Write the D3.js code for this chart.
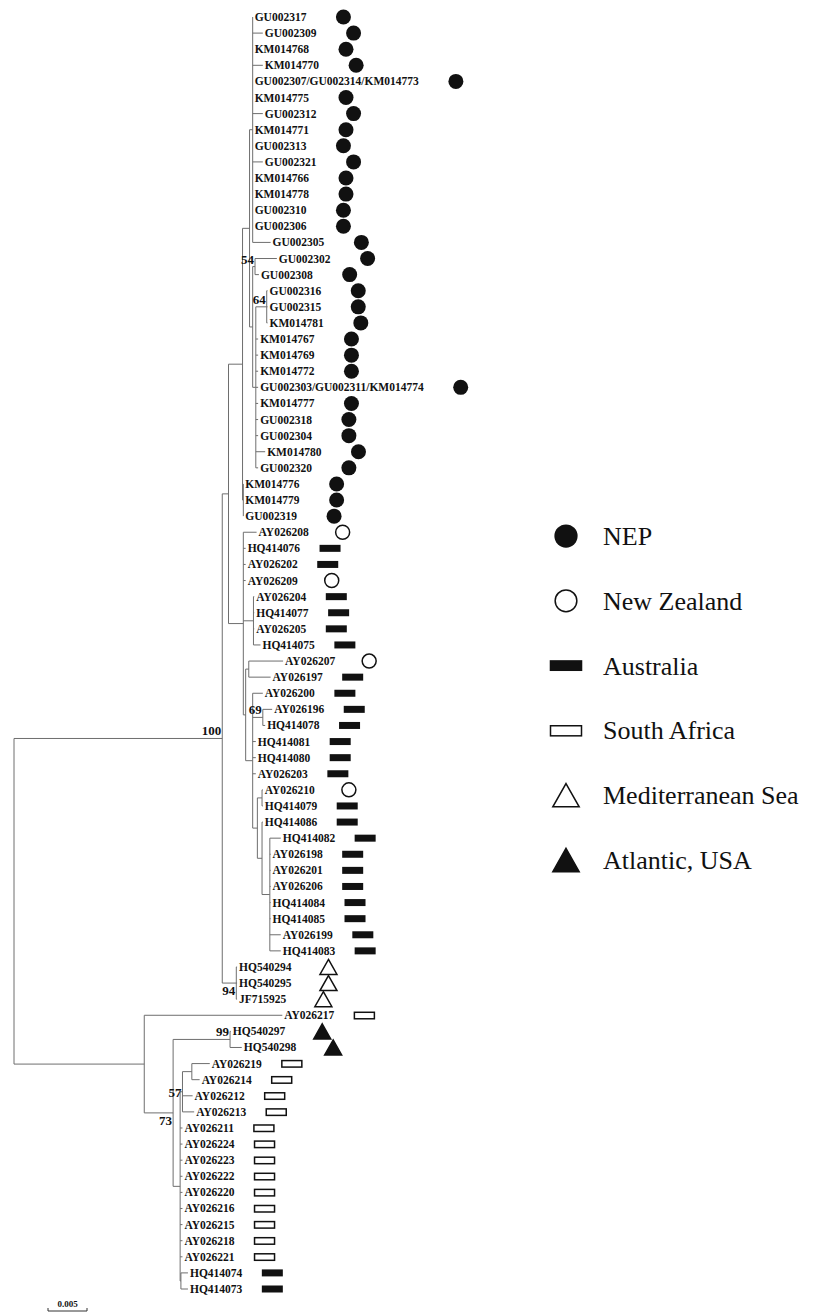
<!DOCTYPE html>
<html><head><meta charset="utf-8">
<script src="https://cdn.jsdelivr.net/npm/d3@7"></script>
<style>body{margin:0;background:#fff}</style>
</head><body>
<svg id="c" width="813" height="1314"></svg>
<script>
// ---- DATA ----
// Tree topology with branch lengths (substitutions/site) and bootstrap supports
const cladeU = "(GU002317:0,GU002309:0.0013,KM014768:0,KM014770:0.0013,GU002307/GU002314/KM014773:0,KM014775:0,GU002312:0.0013,KM014771:0,GU002313:0,GU002321:0.0013,KM014766:0,KM014778:0,GU002310:0,GU002306:0,GU002305:0.0023)";
const clade54 = "(GU002302:0.0028,GU002308:0.0005)54";
const cladeY = "((GU002316:0.0001,GU002315:0.0001,KM014781:0.0001)64:0.0014,KM014767:0.0003,KM014769:0.0003,KM014772:0.0003,GU002303/GU002311/KM014774:0.0003,KM014777:0.0003,GU002318:0.0003,GU002304:0.0003,KM014780:0.0012,GU002320:0.0003)";
const cladeKM = "(KM014776:0,KM014779:0,GU002319:0)";
const cladeM = "(HQ414082:0.0014,AY026198:0.0001,AY026201:0.0001,AY026206:0.0001,HQ414084:0.0001,HQ414085:0.0001,AY026199:0.0014,HQ414083:0.0014)";
const cladeR = "(AY026200:0.0013,(AY026196:0.0012,HQ414078:0.0003)69:0.0013,HQ414081:0.0004,HQ414080:0.0004,AY026203:0.0004,((AY026210:0.0001,HQ414079:0.0001):0.0006,(HQ414086:0.0001," + cladeM + ":0.001):0.0006):0.0006)";
const cladeAu = "(AY026208:0.0017,HQ414076:0.0003,AY026202:0.0003,AY026209:0.0003,(AY026204:0.0001,HQ414077:0.0001,AY026205:0.0001,HQ414075:0.0009):0.0013,((AY026207:0.0044,AY026197:0.0028):0.0004," + cladeR + ":0.0009):0.0003)";
const clade94 = "(HQ540294:0.0001,HQ540295:0.0001,JF715925:0.0001)94";
const cladeD = "(((AY026219:0.0023,AY026214:0.001):0.0012,AY026212:0.0013,AY026213:0.0015)57:0.0003,AY026211:0.0003,AY026224:0.0003,AY026223:0.0003,AY026222:0.0003,AY026220:0.0003,AY026216:0.0003,AY026215:0.0003,AY026218:0.0003,AY026221:0.0003,(HQ414074:0.0009,HQ414073:0.0009):0.0001)";
const cladeB = "(AY026217:0.0177,((HQ540297:0.0001,HQ540298:0.0015)99:0.0073," + cladeD + ":0.0009)73:0.0037)";
const newick = "(((((" + cladeU + ":0.0004,(" + clade54 + ":0.0003," + cladeY + ":0.0004):0.0004):0.0009," + cladeKM + ":0.0001):0.0018," + cladeAu + ":0.0019):0.0008," + clade94 + ":0.0018)100:0.0267," + cladeB + ":0.0167);";

// Region of each leaf, in leaf order (top to bottom)
const leafRegion = [
 "NEP","NEP","NEP","NEP","NEP","NEP","NEP","NEP","NEP","NEP","NEP","NEP","NEP","NEP","NEP","NEP",
 "NEP","NEP","NEP","NEP","NEP","NEP","NEP","NEP","NEP","NEP","NEP","NEP","NEP","NEP","NEP","NEP",
 "NZ","AUS","AUS","NZ","AUS","AUS","AUS","AUS","NZ","AUS","AUS","AUS","AUS","AUS","AUS","AUS",
 "NZ","AUS","AUS","AUS","AUS","AUS","AUS","AUS","AUS","AUS","AUS",
 "MED","MED","MED",
 "SA","ATL","ATL",
 "SA","SA","SA","SA","SA","SA","SA","SA","SA","SA","SA","SA","SA",
 "AUS","AUS"
];
const legendCodes = ["NEP","NZ","AUS","SA","MED","ATL"];
const legendNames = ["NEP","New Zealand","Australia","South Africa","Mediterranean Sea","Atlantic, USA"];
const supportPlace = {"100":"above","94":"below","99":"above","73":"below","57":"mid","64":"above","69":"above","54":"above"};
const scaleBarValue = 0.005;

// ---- PARSE ----
function parseNewick(s){
  let i=0;
  function node(){
    const n={children:[]};
    if(s[i]==='('){
      i++; n.children.push(node());
      while(s[i]===','){ i++; n.children.push(node()); }
      i++;
    }
    let name=''; while(i<s.length && !',():;'.includes(s[i])) name+=s[i++];
    let len=0;
    if(s[i]===':'){ i++; let num=''; while(i<s.length && !',();'.includes(s[i])) num+=s[i++]; len=+num; }
    if(n.children.length) n.support=name; else n.name=name;
    n.length=len;
    if(!n.children.length) delete n.children;
    return n;
  }
  return node();
}
const root = d3.hierarchy(parseNewick(newick));

// ---- SCALES ----
const leaves = root.leaves();
const x = d3.scaleLinear().domain([0, 0.04]).range([14, 14 + 312]);
const y = d3.scaleLinear().domain([0, leaves.length-1]).range([17, 1289]);

root.eachBefore(d => { d.depth_len = d.parent ? d.parent.depth_len + d.data.length : 0; });
leaves.forEach((d,i) => { d.yy = y(i); d.region = leafRegion[i]; });
root.eachAfter(d => { if(d.children){ d.yy = (d.children[0].yy + d.children[d.children.length-1].yy)/2; } });
root.each(d => d.xx = x(d.depth_len));

const svg = d3.select("#c");
const lineColor = "#6e6e6e";
const g = svg.append("g");

// vertical connectors
g.selectAll("line.v").data(root.descendants().filter(d=>d.children)).join("line")
  .attr("x1", d=>d.xx).attr("x2", d=>d.xx)
  .attr("y1", d=>d.children[0].yy).attr("y2", d=>d.children[d.children.length-1].yy)
  .attr("stroke", lineColor).attr("stroke-width",1);
// horizontal branches
g.selectAll("line.h").data(root.descendants().filter(d=>d.parent)).join("line")
  .attr("x1", d=>d.parent.xx).attr("x2", d=>d.xx)
  .attr("y1", d=>d.yy).attr("y2", d=>d.yy)
  .attr("stroke", lineColor).attr("stroke-width",1);

// leaf labels
const font = "'Liberation Serif','Times New Roman',serif";
const labels = g.selectAll("text.leaf").data(leaves).join("text")
  .attr("x", d=>d.xx+2).attr("y", d=>d.yy+4)
  .attr("font-family", font).attr("font-weight","bold").attr("font-size",11.5)
  .attr("fill","#111").text(d=>d.data.name);
labels.each(function(d){ d.labelEnd = d.xx + 2 + this.getComputedTextLength(); });

// bootstrap supports
g.selectAll("text.sup").data(root.descendants().filter(d=>d.children && d.data.support)).join("text")
  .attr("x", d=>d.xx-1).attr("text-anchor","end")
  .attr("y", d=>{ const p = supportPlace[d.data.support]; return p==="below"? d.yy+12 : p==="mid"? d.yy+5 : d.yy-3; })
  .attr("font-family", font).attr("font-weight","bold").attr("font-size",13).attr("fill","#111")
  .text(d=>d.data.support);

// markers
function drawMarker(sel, code, cx, cy, s){
  if(code==="NEP") sel.append("circle").attr("cx",cx).attr("cy",cy).attr("r",7.5*s).attr("fill","#111");
  else if(code==="NZ") sel.append("circle").attr("cx",cx).attr("cy",cy).attr("r",7*s).attr("fill","#fff").attr("stroke","#111").attr("stroke-width",1.5);
  else if(code==="AUS") sel.append("rect").attr("x",cx-10.5*s).attr("y",cy-3.5*s).attr("width",21*s).attr("height",7*s).attr("fill","#111");
  else if(code==="SA") sel.append("rect").attr("x",cx-10*s).attr("y",cy-3*s).attr("width",20*s).attr("height",6.5*s).attr("fill","#fff").attr("stroke","#111").attr("stroke-width",1.5);
  else {
    const w=8.5*s, h=7.5*s;
    sel.append("path").attr("d",`M${cx},${cy-h}L${cx+w},${cy+h}L${cx-w},${cy+h}Z`)
      .attr("fill", code==="ATL"?"#111":"#fff").attr("stroke","#111").attr("stroke-width",1.5);
  }
}
const markerGap = {NEP:37, NZ:34, AUS:30, SA:30, MED:37, ATL:37};
const mg = svg.append("g");
leaves.forEach(d => drawMarker(mg, d.region, d.labelEnd + markerGap[d.region], d.yy, 1));

// legend
const ly = d3.scalePoint().domain(legendCodes).range([536, 860]);
const lg = svg.append("g");
legendCodes.forEach((c,i) => {
  drawMarker(lg, c, 566, ly(c), 1.55);
  lg.append("text").attr("x",603).attr("y",ly(c)+9)
    .attr("font-family",font).attr("font-size",26).attr("fill","#111").text(legendNames[i]);
});

// scale bar
const sbX = 48, sbY = 1311, sbW = x(scaleBarValue) - x(0);
const sb = svg.append("g").attr("stroke","#333").attr("stroke-width",1);
sb.append("line").attr("x1",sbX).attr("x2",sbX+sbW).attr("y1",sbY).attr("y2",sbY);
sb.append("line").attr("x1",sbX).attr("x2",sbX).attr("y1",sbY-3).attr("y2",sbY);
sb.append("line").attr("x1",sbX+sbW).attr("x2",sbX+sbW).attr("y1",sbY-3).attr("y2",sbY);
svg.append("text").attr("x",sbX+sbW/2).attr("y",sbY-4).attr("text-anchor","middle")
  .attr("font-family",font).attr("font-weight","bold").attr("font-size",9).attr("fill","#111").text(scaleBarValue);
</script>
</body></html>
